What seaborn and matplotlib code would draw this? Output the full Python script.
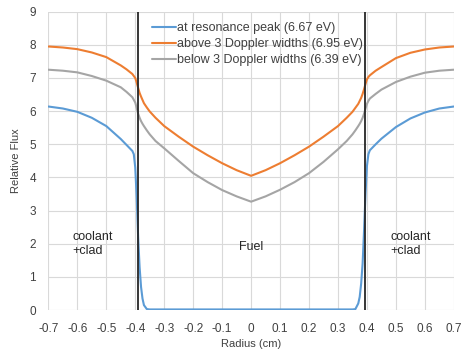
import pandas as pd
import seaborn as sns
import matplotlib.pyplot as plt

radius = [-0.7, -0.65, -0.6, -0.55, -0.5, -0.45, -0.43, -0.41, -0.405, -0.4,
          -0.395, -0.39, -0.385, -0.38, -0.375, -0.37, -0.36, -0.35, -0.33, -0.3,
          -0.25, -0.2, -0.15, -0.1, -0.05, 0,
          0.05, 0.1, 0.15, 0.2, 0.25, 0.3, 0.33, 0.35, 0.36, 0.37,
          0.375, 0.38, 0.385, 0.39, 0.395, 0.4, 0.405, 0.41, 0.43, 0.45,
          0.5, 0.55, 0.6, 0.65, 0.7]

peak = [6.14, 6.08, 5.98, 5.80, 5.55, 5.16, 4.98, 4.80, 4.70, 4.30,
        3.40, 2.20, 1.30, 0.70, 0.35, 0.15, 0.03, 0.02, 0.02, 0.02,
        0.02, 0.02, 0.02, 0.02, 0.02, 0.02,
        0.02, 0.02, 0.02, 0.02, 0.02, 0.02, 0.02, 0.02, 0.03, 0.20,
        0.40, 0.80, 1.40, 2.40, 3.50, 4.35, 4.70, 4.82, 5.00, 5.17,
        5.52, 5.78, 5.96, 6.08, 6.14]

above = [7.95, 7.92, 7.87, 7.77, 7.63, 7.38, 7.26, 7.12, 7.06, 7.00,
         6.86, 6.70, 6.55, 6.44, 6.34, 6.24, 6.11, 5.99, 5.80, 5.55,
         5.23, 4.93, 4.67, 4.43, 4.22, 4.05,
         4.22, 4.43, 4.67, 4.93, 5.23, 5.55, 5.80, 5.98, 6.10, 6.22,
         6.31, 6.40, 6.52, 6.66, 6.82, 6.96, 7.03, 7.08, 7.22, 7.33,
         7.60, 7.76, 7.86, 7.92, 7.95]

below = [7.25, 7.22, 7.17, 7.06, 6.92, 6.72, 6.58, 6.42, 6.34, 6.26,
         6.10, 5.92, 5.80, 5.70, 5.62, 5.55, 5.42, 5.30, 5.10, 4.88,
         4.50, 4.13, 3.86, 3.62, 3.43, 3.27,
         3.43, 3.63, 3.86, 4.13, 4.47, 4.85, 5.10, 5.30, 5.42, 5.55,
         5.62, 5.70, 5.80, 5.92, 6.08, 6.22, 6.31, 6.38, 6.52, 6.65,
         6.88, 7.04, 7.16, 7.22, 7.25]

labels = ['at resonance peak (6.67 eV)',
          'above 3 Doppler widths (6.95 eV)',
          'below 3 Doppler widths (6.39 eV)']
colors = ['#5B9BD5', '#ED7D31', '#A5A5A5']
fuel_edge = [-0.392, 0.392]

df = pd.DataFrame({'radius': radius, labels[0]: peak,
                   labels[1]: above, labels[2]: below})
df = df.melt(id_vars='radius', var_name='series', value_name='flux')

sns.set_theme(style='whitegrid')
plt.rcParams['font.family'] = ['Liberation Sans', 'DejaVu Sans']
plt.rcParams['axes.unicode_minus'] = False

fig = plt.figure(figsize=(4.65, 3.54), dpi=100)
ax = fig.add_axes([0.104, 0.124, 0.872, 0.843])
sns.lineplot(data=df, x='radius', y='flux', hue='series',
             palette=colors, linewidth=1.5, ax=ax)
for xe in fuel_edge:
    ax.axvline(xe, color='#262626', linewidth=1.3, zorder=5)

ax.set_xlim(-0.7, 0.7)
ax.set_ylim(0, 9)
xt = [round(-0.7 + 0.1 * i, 1) for i in range(15)]
ax.set_xticks(xt)
ax.set_xticklabels(['0' if v == 0 else f'{v:g}' for v in xt])
ax.set_yticks(range(10))
ax.tick_params(labelsize=8.5, colors='#404040', pad=3)
ax.grid(color='#d9d9d9', linewidth=0.8)
for s in ax.spines.values():
    s.set_visible(False)
ax.set_xlabel('Radius (cm)', fontsize=8, color='#404040', labelpad=3)
ax.set_ylabel('Relative Flux', fontsize=8, color='#404040', labelpad=6)

ax.text(-0.616, 2.0, 'coolant\n+clad', fontsize=9, color='#262626',
        va='center', ha='left', linespacing=1.2)
ax.text(0.482, 2.0, 'coolant\n+clad', fontsize=9, color='#262626',
        va='center', ha='left', linespacing=1.2)
ax.text(-0.042, 1.9, 'Fuel', fontsize=9, color='#262626',
        va='center', ha='left')

ax.legend(loc='upper left', bbox_to_anchor=(0.255, 0.965), frameon=False,
          fontsize=9, handlelength=1.9, handletextpad=0.12,
          labelspacing=0.32, borderpad=0, borderaxespad=0,
          labelcolor='#404040')

fig.savefig('out.png', dpi=100)
